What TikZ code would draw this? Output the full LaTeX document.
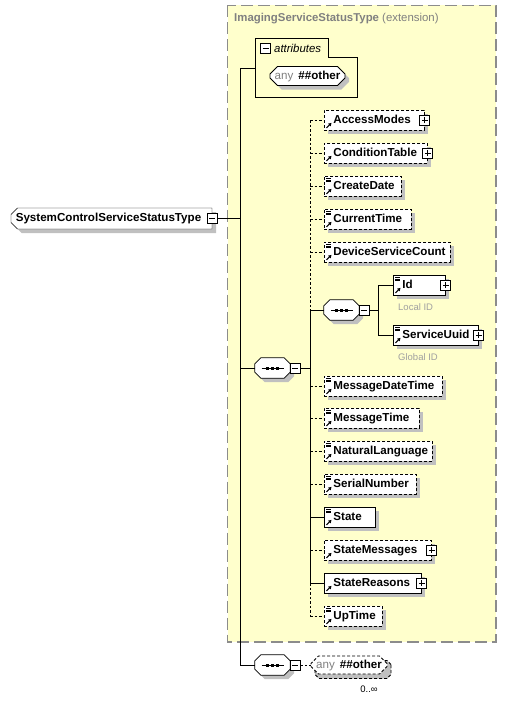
\documentclass[tikz,border=0pt]{standalone}
\usepackage{fontspec}
\setmainfont{Liberation Sans}
\usetikzlibrary{shapes.misc,shadows,arrows.meta}
\definecolor{extfill}{RGB}{255,255,204}
\definecolor{extline}{RGB}{140,140,140}
\definecolor{shadgray}{RGB}{192,192,192}
\definecolor{ttlgray}{RGB}{128,128,128}
\definecolor{notegray}{RGB}{160,160,160}
\tikzset{
 lbl/.style={font=\fontsize{11.6}{13}\selectfont\bfseries},
 sh/.style={general shadow={fill=shadgray, shadow xshift=4pt, shadow yshift=-4pt}},
 elembox/.style={draw, fill=white, line width=0.8pt, minimum height=20pt, inner xsep=0pt, inner ysep=0pt, text height=8.5pt, text depth=2.5pt, align=left, anchor=west, lbl, sh},
 optbox/.style={dash pattern=on 3pt off 2pt},
 conn/.style={line width=0.8pt},
 optconn/.style={line width=0.8pt, dash pattern=on 2.5pt off 2pt},
 pmbox/.style={draw, fill=white, line width=0.9pt, minimum size=10pt, inner sep=0pt},
 seqbox/.style={rectangle, minimum width=35pt, minimum height=20pt, inner sep=0pt},
 anybox/.style={chamfered rectangle, chamfered rectangle xsep=4pt, draw, fill=white, line width=0.8pt, minimum width=75pt, minimum height=19pt, inner sep=0pt, text height=8.5pt, text depth=2.5pt, font=\fontsize{11.6}{13}\selectfont},
 notetxt/.style={text=notegray, font=\fontsize{9.5}{11}\selectfont, anchor=west, inner sep=0pt},
}
\newcommand\elemnode[6]{\node[elembox,#6,text width=#4pt] (#1) at (#2,#3) {\hspace*{9pt}#5};}
\newcommand\plusmark[1]{\node[pmbox] (#1p) at (#1.east) {};
 \draw[line width=0.9pt] ([xshift=-3pt]#1p.center) -- ([xshift=3pt]#1p.center) ([yshift=-3pt]#1p.center) -- ([yshift=3pt]#1p.center);}
\newcommand\minusmark[2]{\node[pmbox] (#1) at (#2) {};
 \draw[line width=0.9pt] ([xshift=-3pt]#1.center) -- ([xshift=3pt]#1.center);}
\newcommand\simpleicon[1]{\draw[line width=0.7pt] ([shift={(2,2.5)}]#1.north west) -- ++(5,0) ([shift={(2,4.3)}]#1.north west) -- ++(5,0) ([shift={(2,6.1)}]#1.north west) -- ++(5,0);}
\newcommand\refarrow[1]{\draw[line width=1.1pt, -{Triangle[length=3pt,width=3.5pt]}] ([shift={(2.5,-2.5)}]#1.south west) -- ++(5,-5);}
% octagon outline around a named node: #1 node, #2 cut, #3 dx, #4 dy, #5 style
\newcommand\octo[5]{\path[#5]
 ([xshift=#3pt+#2pt,yshift=#4pt]#1.north west) -- ([xshift=#3pt-#2pt,yshift=#4pt]#1.north east)
 -- ([xshift=#3pt,yshift=#4pt-#2pt]#1.north east) -- ([xshift=#3pt,yshift=#4pt+#2pt]#1.south east)
 -- ([xshift=#3pt-#2pt,yshift=#4pt]#1.south east) -- ([xshift=#3pt+#2pt,yshift=#4pt]#1.south west)
 -- ([xshift=#3pt,yshift=#4pt+#2pt]#1.south west) -- ([xshift=#3pt,yshift=#4pt-#2pt]#1.north west) -- cycle;}
\newcommand\seqshape[1]{\octo{#1}{6}{4}{-4}{fill=shadgray}\octo{#1}{6}{0}{0}{draw, fill=white, line width=0.8pt}
 \draw[line width=0.8pt] ([xshift=-11pt]#1.center) -- ([xshift=11pt]#1.center);
 \foreach \dx in {-5,0,5}{\fill ([shift={(\dx-1.5,-1.5)}]#1.center) rectangle ++(3,3);}}
\begin{document}
\begin{tikzpicture}[x=1pt,y=-1pt]
\useasboundingbox (0,0) rectangle (507,701);
% extension region
\draw[fill=extfill, draw=extline, line width=1.1pt, dash pattern=on 12pt off 5pt] (227.5,5.5) rectangle (496,642);
\node[anchor=west, inner sep=0pt, text=ttlgray, font=\fontsize{11.4}{13}\selectfont] (ttl) at (234,19) {\textbf{ImagingServiceStatusType} (extension)};
% attributes
\draw[line width=0.8pt] (255,97) -- (255,38) -- (328,38) -- (328,57) -- (357,57) -- (357,97) -- cycle;
\coordinate (attrin) at (255,68);
\minusmark{attrm}{265.5,48.5}
\node[anchor=west, inner sep=0pt, font=\fontsize{11.4}{13}\selectfont\itshape] (attrl) at (274,48) {attributes};
\node[anybox, sh] (anyA) at (307.5,76) {{\color{ttlgray}any}\hspace{5pt}\textbf{\#\#other}};
% root
\node[draw, fill=white, chamfered rectangle, chamfered rectangle corners={north west,south west}, chamfered rectangle xsep=3pt, minimum width=201pt, minimum height=21pt, inner sep=0pt, lbl, sh] (sc) at (111.5,218.5) {SystemControlServiceStatusType\hspace*{6pt}};
\minusmark{scm}{212,218.5}
% trunk
\coordinate (trunk) at (240,0);
\coordinate (bus) at (310,0);
\coordinate (bus2) at (378,0);
\node[seqbox] (seq1) at (272.5,368) {};
\seqshape{seq1}
\minusmark{seq1m}{295,368}
\node[seqbox] (seq2) at (341.5,310) {};
\seqshape{seq2}
\minusmark{seq2m}{364,310}
\node[seqbox] (seqb) at (272.5,665) {};
\seqshape{seqb}
\minusmark{seqbm}{295,665}
% elements
\elemnode{am}{324}{120}{100}{AccessModes}{optbox}
\elemnode{ct}{324}{153}{103}{ConditionTable}{optbox}
\elemnode{cd}{324}{186}{77}{CreateDate}{optbox}
\elemnode{cur}{324}{219}{87}{CurrentTime}{optbox}
\elemnode{dsc}{324}{252}{126}{DeviceServiceCount}{optbox}
\elemnode{id}{393}{285}{52}{Id}{}
\elemnode{su}{393}{335}{85}{ServiceUuid}{}
\elemnode{mdt}{324}{386}{118}{MessageDateTime}{optbox}
\elemnode{mt}{324}{418}{95}{MessageTime}{optbox}
\elemnode{nl}{324}{451}{108}{NaturalLanguage}{optbox}
\elemnode{sn}{324}{484}{92}{SerialNumber}{optbox}
\elemnode{st}{324}{517}{51}{State}{}
\elemnode{sm}{324}{550}{107}{StateMessages}{optbox}
\elemnode{sr}{324}{583}{97}{StateReasons}{}
\elemnode{ut}{324}{616}{58}{UpTime}{optbox}
\foreach \n in {am,ct,sm,sr,id,su}{\plusmark{\n}}
\foreach \n in {cd,cur,dsc,id,su,mdt,mt,nl,sn,st,ut}{\simpleicon{\n}}
\foreach \n in {am,ct,cd,cur,dsc,id,su,mdt,mt,nl,sn,st,sm,sr,ut}{\refarrow{\n}}
\node[notetxt] (idnote) at (398,307.5) {Local ID};
\node[notetxt] (sunote) at (398,357.5) {Global ID};
% bottom any
\node[anybox, optbox, fill=shadgray, minimum width=76pt, minimum height=18pt] (anyBs) at (353,669.5) {};
\node[anybox, optbox, minimum width=76pt, minimum height=18pt] (anyB) at (349,665) {{\color{ttlgray}any}\hspace{5pt}\textbf{\#\#other}};
\node[inner sep=0pt, font=\fontsize{9.5}{11}\selectfont] (mult) at (369,689) {0..∞};
% connectors
\draw[conn] (scm.east) -- (scm.east -| trunk);
\draw[conn] (attrin) -| (seqb.west -| trunk) -- (seqb.west);
\draw[conn] (seq1.west -| trunk) -- (seq1.west);
\draw[conn] (seq1m.east) -- (seq1m.east -| bus);
\draw[optconn] (am.west -| bus) -- (seq2.west -| bus);
\draw[conn] (seq2.west -| bus) -- (sr.west -| bus);
\draw[optconn] (sr.west -| bus) -- (ut.west -| bus);
\foreach \n in {am,ct,cd,cur,dsc,mdt,mt,nl,sn,sm,ut}{\draw[optconn] (\n.west -| bus) -- (\n.west);}
\foreach \n in {st,sr,seq2}{\draw[conn] (\n.west -| bus) -- (\n.west);}
\draw[conn] (seq2m.east) -- (seq2m.east -| bus2);
\draw[conn] (id.west -| bus2) -- (su.west -| bus2);
\draw[conn] (id.west -| bus2) -- (id.west);
\draw[conn] (su.west -| bus2) -- (su.west);
\draw[optconn] (seqbm.east) -- (anyB.west);
\end{tikzpicture}
\end{document}
